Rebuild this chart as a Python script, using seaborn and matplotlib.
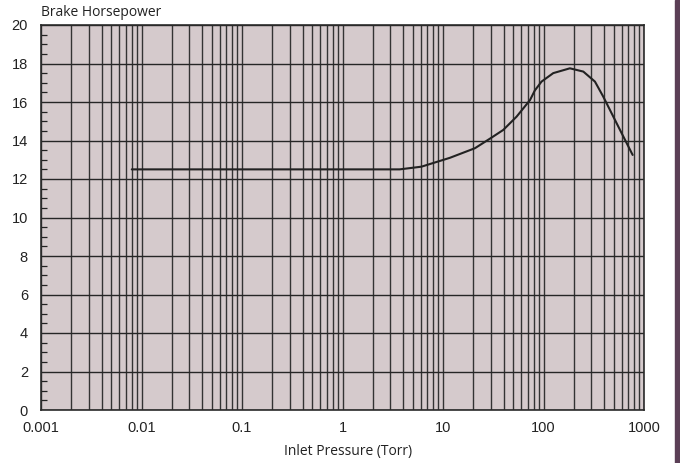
import matplotlib
matplotlib.use("Agg")
import matplotlib.pyplot as plt
import matplotlib.ticker as mticker
from matplotlib.patches import Rectangle
import pandas as pd
import seaborn as sns

# Courbe
pressure_torr = [0.008, 0.1, 1, 3.7, 6.1, 11.7, 20.8, 29.4, 39.8, 54, 73.4, 82,
                 95.6, 125, 183, 249, 325, 393, 577, 771]
brake_hp = [12.5, 12.5, 12.5, 12.5, 12.64, 13.1, 13.6, 14.1, 14.55, 15.24, 16.1,
            16.6, 17.06, 17.5, 17.75, 17.58, 17.06, 16.28, 14.55, 13.25]

x_ticks = [0.001, 0.01, 0.1, 1, 10, 100, 1000]
x_tick_labels = ["0.001", "0.01", "0.1", "1", "10", "100", "1000"]
y_ticks = [0, 2, 4, 6, 8, 10, 12, 14, 16, 18, 20]

df = pd.DataFrame({"pressure": pressure_torr, "bhp": brake_hp})

sns.set_style("ticks")
plt.rcParams["font.family"] = ["Liberation Sans", "DejaVu Sans"]

fig = plt.figure(figsize=(6.8, 4.63), dpi=100)
ax = fig.add_axes([41 / 680, 53 / 463, 603 / 680, 385 / 463])
ax.set_facecolor("#d5cacc")

ax.set_xscale("log")
ax.set_xlim(0.001, 1000)
ax.set_ylim(0, 20)

# Grille
ax.xaxis.set_minor_locator(mticker.LogLocator(base=10, subs=range(2, 10), numticks=20))
ax.xaxis.set_minor_formatter(mticker.NullFormatter())
ax.grid(True, which="both", axis="x", color="#333333", linewidth=1.0)
ax.grid(True, which="major", axis="y", color="#262626", linewidth=1.0)
ax.set_axisbelow(True)

sns.lineplot(data=df, x="pressure", y="bhp", ax=ax, color="#222222",
             linewidth=1.5, estimator=None, sort=False)

ax.set_xticks(x_ticks)
ax.set_xticklabels(x_tick_labels)
ax.set_yticks(y_ticks)
ax.yaxis.set_minor_locator(mticker.MultipleLocator(0.5))
ax.tick_params(axis="both", which="major", length=0, labelsize=10.5, colors="#222222")
ax.tick_params(axis="y", which="major", pad=9.4)
ax.tick_params(axis="x", which="major", pad=8)
ax.tick_params(axis="y", which="minor", direction="in", length=4, width=0.9, color="#222222")
ax.tick_params(axis="x", which="minor", length=0)

for side in ["left", "right", "top", "bottom"]:
    ax.spines[side].set_visible(True)
    ax.spines[side].set_color("#2a2a2a")
    ax.spines[side].set_linewidth(1.2)

ax.set_xlabel("")
ax.set_ylabel("")
fig.text(348 / 680, 1 - 451 / 463, "Inlet Pressure (Torr)", fontsize=10,
         family=["Open Sans", "DejaVu Sans"], color="#222222", va="center", ha="center")
fig.text(41 / 680, 1 - 13 / 463, "Brake Horsepower", fontsize=10,
         family=["Open Sans", "DejaVu Sans"], color="#222222", va="center", ha="left")

# Bande violette à droite
fig.patches.append(Rectangle((675 / 680, 0), 5 / 680, 1, transform=fig.transFigure,
                             color="#5b3f56", zorder=0))

fig.savefig("out.png", dpi=100)
